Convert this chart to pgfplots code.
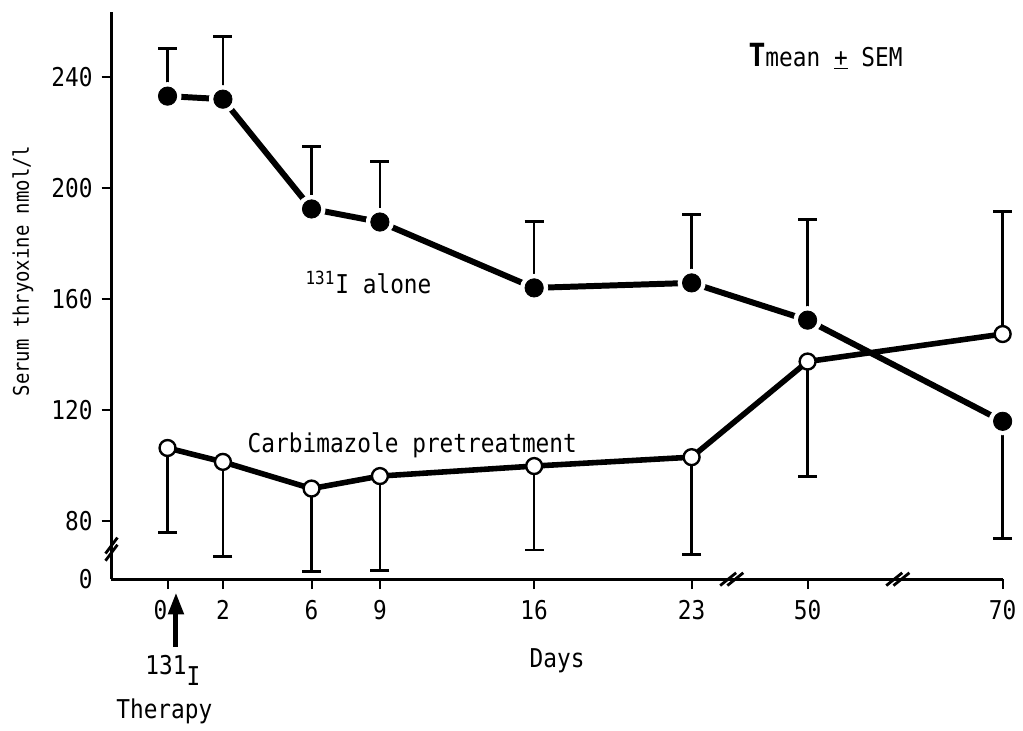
\documentclass[border=0pt]{standalone}
\usepackage{pgfplots}
\pgfplotsset{compat=1.18}
\usepackage{fontspec}
\setmainfont{DejaVu Sans Mono}[FakeStretch=0.88]
\usetikzlibrary{arrows.meta}

% x positions follow the drawn (broken) day scale
\newcommand{\lbl}{\fontsize{13}{15}\selectfont}

\begin{document}
\begin{tikzpicture}
\begin{axis}[
  scale only axis,
  width=447.5pt, height=285pt,
  xmin=-2.46, xmax=36.65,
  ymin=59.2, ymax=263.4,
  axis lines*=left,
  axis line style={-, line width=1.5pt},
  tick align=outside,
  major tick length=5pt,
  every tick/.style={black, line width=1pt},
  xtick={0,2.43,6.32,9.32,16.09,23,28.09,36.65},
  xticklabels={\hspace*{-7pt}0,2,6,9,16,23,50,70},
  ytick={80,120,160,200,240},
  extra y ticks={59.2},
  extra y tick labels={0},
  extra y tick style={tick style={draw=none}},
  /pgf/number format/assume math mode=true,
  tick label style={font=\lbl},
  yticklabel style={xshift=-1pt},
  xticklabel style={yshift=-2pt},
  xlabel={Days},
  xlabel style={at={(axis description cs:0.5,-0.155)}, anchor=base, font=\lbl},
  ylabel={Serum thryoxine nmol/l},
  ylabel style={at={(axis description cs:-0.0994,0.543)}, anchor=center, font=\fontsize{10.8}{12}\selectfont},
  clip=false,
]
% 131I alone
\addplot[black, line width=3pt] coordinates {
  (0,233.0) (2.43,231.9) (6.32,192.4) (9.32,187.7) (16.09,164.0) (23,165.8) (28.09,152.4) (36.65,116.0)
};
\addplot[white, only marks, mark=*, mark size=6.8pt] coordinates {
  (0,233.0) (2.43,231.9) (6.32,192.4) (9.32,187.7) (16.09,164.0) (23,165.8) (28.09,152.4) (36.65,116.0)
};
\addplot[draw=none, error bars/.cd, y dir=plus, y explicit,
  error bar style={draw=black, line width=1.25pt},
  error mark options={draw=black, line width=1.5pt, mark size=4.75pt, rotate=90}] coordinates {
  (0,233.0) +- (0,17.0) (2.43,231.9) +- (0,22.4) (6.32,192.4) +- (0,22.5) (9.32,187.7) +- (0,21.7)
  (16.09,164.0) +- (0,23.9) (23,165.8) +- (0,24.7) (28.09,152.4) +- (0,36.1)
};
\addplot[draw=none, error bars/.cd, y dir=minus, y explicit,
  error bar style={draw=black, line width=1.25pt},
  error mark options={draw=black, line width=1.5pt, mark size=4.75pt, rotate=90}] coordinates {
  (36.65,116.0) +- (0,42.2)
};
\addplot[black, only marks, mark=*, mark size=4.6pt] coordinates {
  (0,233.0) (2.43,231.9) (6.32,192.4) (9.32,187.7) (16.09,164.0) (23,165.8) (28.09,152.4) (36.65,116.0)
};
% Carbimazole pretreatment
\addplot[draw=none, error bars/.cd, y dir=minus, y explicit,
  error bar style={draw=black, line width=1.25pt},
  error mark options={draw=black, line width=1.5pt, mark size=4.75pt, rotate=90}] coordinates {
  (0,106.4) +- (0,30.4) (2.43,101.4) +- (0,34.0) (6.32,91.8) +- (0,29.9) (9.32,96.3) +- (0,34.1)
  (16.09,99.9) +- (0,30.2) (23,103.1) +- (0,34.9) (28.09,137.5) +- (0,41.5)
};
\addplot[draw=none, error bars/.cd, y dir=plus, y explicit,
  error bar style={draw=black, line width=1.25pt},
  error mark options={draw=black, line width=1.5pt, mark size=4.75pt, rotate=90}] coordinates {
  (36.65,147.4) +- (0,44.1)
};
\addplot[black, line width=2.8pt, mark=*, mark size=4pt, mark options={fill=white, draw=black, line width=1.2pt}] coordinates {
  (0,106.4) (2.43,101.4) (6.32,91.8) (9.32,96.3) (16.09,99.9) (23,103.1) (28.09,137.5) (36.65,147.4)
};

% axis breaks
\draw[line width=1.4pt] (axis cs:24.76,59.2) ++(-1.8pt,0pt) +(-4pt,-3.2pt) -- +(4pt,3.2pt);
\draw[line width=1.4pt] (axis cs:24.76,59.2) ++(1.8pt,0pt) +(-4pt,-3.2pt) -- +(4pt,3.2pt);
\draw[line width=1.4pt] (axis cs:32.05,59.2) ++(-1.8pt,0pt) +(-4pt,-3.2pt) -- +(4pt,3.2pt);
\draw[line width=1.4pt] (axis cs:32.05,59.2) ++(1.8pt,0pt) +(-4pt,-3.2pt) -- +(4pt,3.2pt);
\draw[line width=1.4pt] (axis cs:-2.46,70) ++(0pt,-1.8pt) +(-3pt,-4pt) -- +(3pt,4pt);
\draw[line width=1.4pt] (axis cs:-2.46,70) ++(0pt,1.8pt) +(-3pt,-4pt) -- +(3pt,4pt);

% annotations
\node[anchor=base west, font=\lbl] at (axis cs:5.75,162) {\textsuperscript{131}I alone};
\node[anchor=base west, font=\lbl] at (axis cs:3.21,104.6) {Carbimazole pretreatment};
\node[anchor=base west, font=\lbl] at (axis cs:25.19,243.8) {{\fontsize{16}{16}\selectfont\bfseries T}mean \underline{+} SEM};
\draw[line width=2.5pt, -{Triangle[length=11pt,width=7.5pt]}] (axis cs:0.37,34.8) -- (axis cs:0.37,54.4);
\node[anchor=base west, font=\lbl] at (axis cs:-1.28,25.06) {131\raisebox{-5.5pt}{I}};
\node[anchor=base, font=\lbl] at (axis cs:-0.14,9.0) {Therapy};

\path (rel axis cs:-0.1251,-0.2567) rectangle (rel axis cs:1.0179,1.0205);
\end{axis}
\end{tikzpicture}
\end{document}
